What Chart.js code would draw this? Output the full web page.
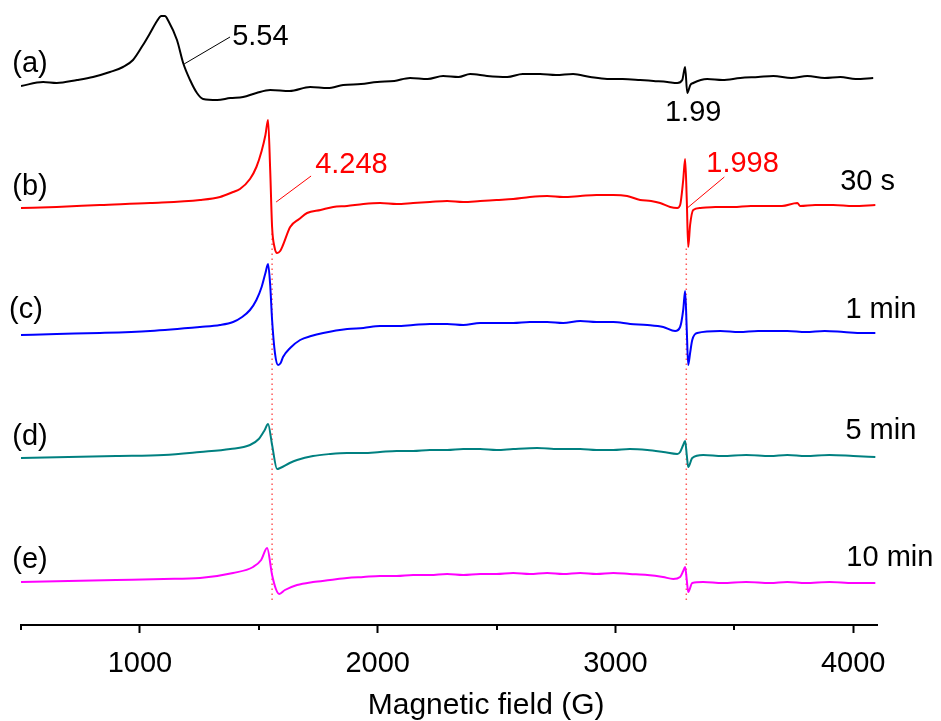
<!DOCTYPE html>
<html>
<head>
<meta charset="utf-8">
<script src="https://cdn.jsdelivr.net/npm/chart.js@4.4.1/dist/chart.umd.min.js"></script>
<style>
  body { margin: 0; background: #fff; }
  #wrap { width: 941px; height: 721px; }
</style>
</head>
<body>
<div id="wrap"><canvas id="c"></canvas></div>
<script>
// field values (G) and signal (relative to each trace's baseline)
const fieldA = [500, 593, 650, 736, 803, 874, 929, 971, 1013, 1043, 1072, 1090, 1105, 1120, 1156, 1182, 1211, 1240, 1266, 1325, 1380, 1434, 1490, 1548, 1630, 1716, 1790, 1855, 1930, 1998, 2070, 2136, 2210, 2275, 2340, 2389, 2460, 2545, 2610, 2683, 2750, 2822, 2894, 2965, 3030, 3104, 3160, 3218, 3260, 3281, 3293, 3302, 3315, 3327, 3386, 3450, 3525, 3600, 3664, 3740, 3807, 3880, 3946, 4010, 4084]
const valuesA = [-1, 3, 2, 5, 8, 13, 18, 25, 40, 52, 64, 69, 69, 64, 45, 22, 5, -8, -14, -15, -13, -12, -8, -5, -6, -2, -3, 0, 1, 3, 4, 7, 6, 9, 8, 11, 9, 8, 11, 11, 10, 11, 8, 6, 6, 5, 4, 3, 2, 5, 18, -8, 0, 2, 6, 5, 7, 8, 9, 7, 9, 7, 8, 6, 7]

const fieldB = [500, 650, 832, 1043, 1253, 1337, 1392, 1421, 1463, 1490, 1512, 1528, 1539, 1548, 1556, 1566, 1577, 1590, 1602, 1632, 1670, 1703, 1760, 1813, 1871, 1940, 2010, 2080, 2149, 2220, 2292, 2360, 2431, 2500, 2570, 2640, 2713, 2780, 2852, 2920, 2991, 3049, 3104, 3150, 3188, 3230, 3260, 3272, 3285, 3293, 3300, 3306, 3314, 3327, 3357, 3420, 3495, 3570, 3638, 3700, 3765, 3777, 3840, 3916, 4000, 4093]
const valuesB = [-3, -2, 0, 2, 5, 8, 13, 16, 26, 38, 54, 70, 85, 35, -22, -42, -48, -46, -40, -22, -14, -8, -5, -2, -1, 1, 2, 1, 2, 3, 4, 3, 4, 5, 6, 8, 9, 8, 9, 10, 10, 9, 5, 4, 2, -2, -3, 0, 25, 46, 5, -42, -20, -5, -3, -2, -2, -1, -1, -1, 2, -1, 0, 0, -1, 0]

const fieldC = [500, 650, 832, 1043, 1253, 1337, 1392, 1430, 1463, 1490, 1512, 1528, 1539, 1548, 1556, 1568, 1581, 1592, 1602, 1632, 1674, 1720, 1771, 1872, 1940, 2010, 2080, 2149, 2220, 2292, 2360, 2431, 2500, 2570, 2640, 2713, 2780, 2852, 2920, 2991, 3062, 3134, 3201, 3251, 3272, 3285, 3293, 3300, 3306, 3314, 3323, 3344, 3441, 3520, 3600, 3723, 3800, 3880, 3960, 4040, 4093]
const valuesC = [-2, -1, 0, 2, 6, 8, 11, 16, 23, 33, 46, 60, 69, 48, 13, -20, -32, -30, -24, -15, -7, -3, 0, 4, 5, 7, 7, 8, 9, 9, 8, 10, 10, 10, 11, 11, 10, 12, 11, 11, 9, 8, 6, 2, 6, 23, 42, 3, -32, -20, -7, 0, 2, 1, 2, 2, 1, 2, 1, 0, 0]

const fieldD = [500, 700, 900, 1100, 1253, 1380, 1463, 1500, 1525, 1539, 1556, 1577, 1590, 1630, 1661, 1728, 1800, 1871, 1940, 2010, 2080, 2149, 2220, 2292, 2360, 2431, 2500, 2570, 2671, 2760, 2852, 2920, 2991, 3060, 3134, 3201, 3260, 3272, 3285, 3293, 3300, 3306, 3323, 3369, 3450, 3550, 3650, 3723, 3800, 3900, 4000, 4093]
const valuesD = [-3, -2, -1, 0, 3, 6, 10, 16, 25, 31, 10, -14, -13, -8, -5, -1, 1, 2, 2, 3, 4, 4, 5, 5, 6, 6, 5, 6, 7, 6, 6, 5, 5, 6, 5, 3, 1, 3, 10, 14, 0, -12, -3, 0, -1, 0, -1, 0, -1, 0, -1, -2]

const fieldE = [500, 700, 900, 1100, 1253, 1392, 1476, 1510, 1535, 1556, 1572, 1586, 1610, 1661, 1728, 1800, 1871, 1940, 2010, 2080, 2149, 2220, 2292, 2360, 2431, 2500, 2570, 2640, 2713, 2780, 2852, 2920, 2991, 3060, 3134, 3200, 3243, 3272, 3285, 3293, 3300, 3306, 3323, 3369, 3450, 3550, 3650, 3723, 3800, 3900, 4000, 4093]
const valuesE = [-2, -1, 0, 1, 2, 7, 13, 20, 32, 5, -9, -14, -10, -5, -2, 0, 2, 3, 4, 4, 5, 5, 6, 5, 6, 6, 7, 6, 7, 6, 7, 6, 7, 6, 5, 3, 1, 3, 9, 13, 0, -12, -3, -2, -3, -2, -3, -2, -3, -2, -3, -3]

// vertical stacking of the traces
const offsets = [540, 420, 292, 170, 45]
const colors = ['#000000', '#ff0000', '#0000ff', '#008080', '#ff00ff']

// x axis ticks
const tickValues = [500, 1000, 1500, 2000, 2500, 3000, 3500, 4000]
const majorTicks = [1000, 2000, 3000, 4000]

// g-value marker lines (field, from, to)
const markerFields = [1556, 3298]
const markerTops = [395, 380]

// leader lines [x1, y1, x2, y2] and their colours
const leaders = [[1186, 561, 1379, 588], [1573, 423, 1720, 449], [3302, 417, 3458, 448]]
const leaderColors = ['#000000', '#ff0000', '#ff0000']

// text labels
const labelText = ['(a)', '(b)', '(c)', '(d)', '(e)', '5.54', '1.99', '4.248', '1.998', '30 s', '1 min', '5 min', '10 min']
const labelX = [538, 538, 521, 538, 538, 1388, 3327, 1737, 3382, 3945, 3967, 3967, 3971]
const labelY = [561, 438, 315, 188, 65, 588, 512, 460, 461, 443, 315, 194, 67]
const labelAlign = ['center', 'center', 'center', 'center', 'center', 'left', 'center', 'left', 'left', 'left', 'left', 'left', 'left']
const labelColor = ['#000', '#000', '#000', '#000', '#000', '#000', '#000', '#ff0000', '#ff0000', '#000', '#000', '#000', '#000']

const axisTitle = 'Magnetic field (G)'
const axisTitleAt = 2456
const FONT = "'Liberation Sans', Arial, sans-serif"

const traces = [[fieldA, valuesA], [fieldB, valuesB], [fieldC, valuesC], [fieldD, valuesD], [fieldE, valuesE]]
let datasets = []
for (let i = 0; i < traces.length; ++i) {
    const f = traces[i][0], v = traces[i][1]
    datasets.push({
        data: f.map((x, j) => ({ x: x, y: v[j] + offsets[i] })),
        borderColor: colors[i],
        borderWidth: 2,
        pointRadius: 0,
        cubicInterpolationMode: 'monotone'
    })
}
for (let i = 0; i < markerFields.length; ++i) {
    datasets.push({
        data: [{ x: markerFields[i], y: 25 }, { x: markerFields[i], y: markerTops[i] }],
        borderColor: '#ff5a5a',
        borderWidth: 1.5,
        borderDash: [1.5, 3.5],
        pointRadius: 0
    })
}
for (let i = 0; i < leaders.length; ++i) {
    const l = leaders[i]
    datasets.push({
        data: [{ x: l[0], y: l[1] }, { x: l[2], y: l[3] }],
        borderColor: leaderColors[i],
        borderWidth: 1,
        pointRadius: 0
    })
}

const extras = {
    id: 'extras',
    afterDraw (chart) {
        const ctx = chart.ctx
        const xs = chart.scales.x, ys = chart.scales.y
        const base = chart.chartArea.bottom
        ctx.save()
        // minor ticks
        ctx.strokeStyle = '#000'
        ctx.lineWidth = 2
        for (const t of tickValues) {
            if (majorTicks.includes(t)) continue
            const px = Math.round(xs.getPixelForValue(t))
            ctx.beginPath()
            ctx.moveTo(px, base)
            ctx.lineTo(px, base + 5)
            ctx.stroke()
        }
        ctx.font = '29px ' + FONT
        ctx.textBaseline = 'middle'
        for (let i = 0; i < labelText.length; ++i) {
            ctx.fillStyle = labelColor[i]
            ctx.textAlign = labelAlign[i]
            ctx.fillText(labelText[i], xs.getPixelForValue(labelX[i]), ys.getPixelForValue(labelY[i]))
        }
        // axis title
        ctx.fillStyle = '#000'
        ctx.textAlign = 'center'
        ctx.font = '30px ' + FONT
        ctx.fillText(axisTitle, xs.getPixelForValue(axisTitleAt), 706)
        ctx.restore()
    }
}

new Chart(document.getElementById('c'), {
    type: 'line',
    data: { datasets: datasets },
    plugins: [extras],
    options: {
        responsive: true,
        maintainAspectRatio: false,
        animation: false,
        layout: { padding: { top: 5, left: 21, right: 64, bottom: 0 } },
        plugins: { legend: { display: false }, tooltip: { enabled: false } },
        scales: {
            x: {
                type: 'linear',
                min: 500,
                max: 4100,
                afterBuildTicks: (s) => { s.ticks = tickValues.map(v => ({ value: v })) },
                afterFit: (s) => { s.height = 96 },
                border: { display: true, color: '#000', width: 2 },
                grid: {
                    drawOnChartArea: false,
                    tickLength: 8,
                    tickWidth: 2,
                    tickColor: (c) => (c.tick && majorTicks.includes(c.tick.value)) ? '#000' : 'rgba(0,0,0,0)'
                },
                ticks: {
                    autoSkip: false,
                    maxRotation: 0,
                    padding: 14,
                    color: '#000',
                    font: { family: FONT, size: 29 },
                    callback: (v) => majorTicks.includes(v) ? String(v) : ''
                }
            },
            y: {
                display: false,
                min: 0,
                max: 620
            }
        }
    }
});
</script>
</body>
</html>
